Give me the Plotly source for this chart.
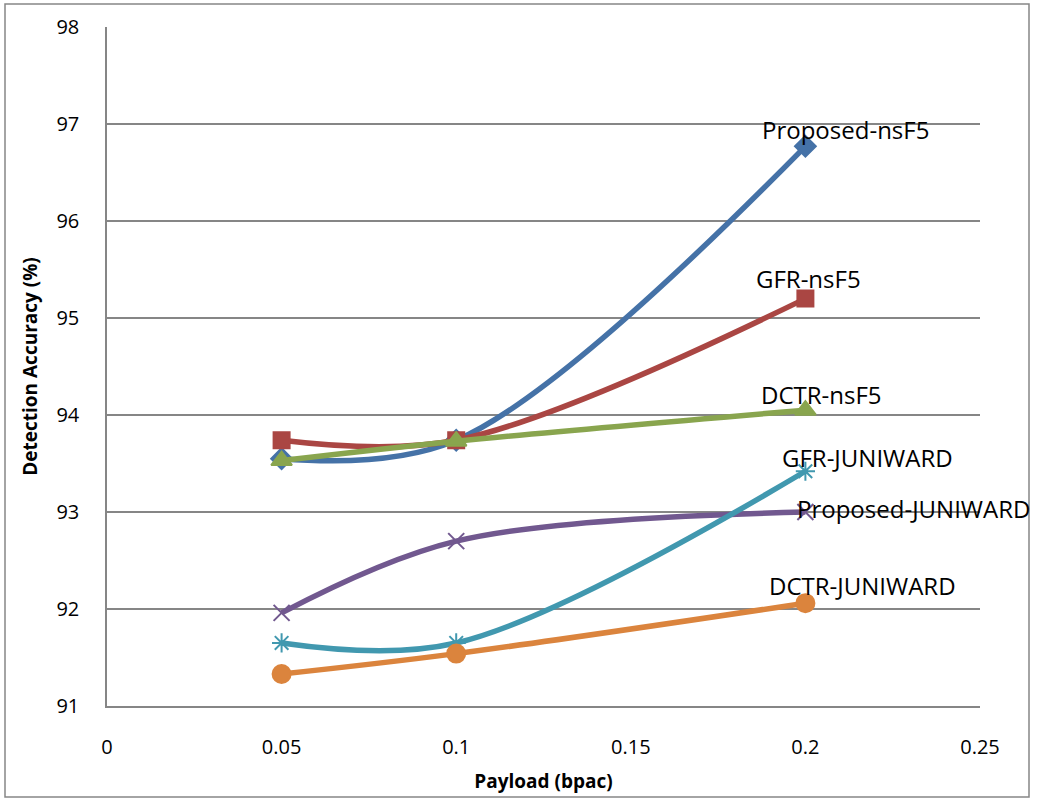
import plotly.graph_objects as go

payload = [0.05, 0.1, 0.2]

series_names = ["Proposed-nsF5", "GFR-nsF5", "DCTR-nsF5",
                "Proposed-JUNIWARD", "GFR-JUNIWARD", "DCTR-JUNIWARD"]
proposed_nsf5 = [93.55, 93.74, 96.77]
gfr_nsf5 = [93.74, 93.74, 95.20]
dctr_nsf5 = [93.53, 93.73, 94.05]
proposed_juniward = [91.96, 92.70, 93.00]
gfr_juniward = [91.65, 91.65, 93.42]
dctr_juniward = [91.33, 91.54, 92.06]

x_ticks = [0, 0.05, 0.1, 0.15, 0.2, 0.25]
x_tick_text = ["0", "0.05", "0.1", "0.15", "0.2", "0.25"]
y_ticks = [91, 92, 93, 94, 95, 96, 97, 98]

values = [proposed_nsf5, gfr_nsf5, dctr_nsf5,
          proposed_juniward, gfr_juniward, dctr_juniward]
colors = ["#4572A7", "#AA4643", "#89A54E", "#71588F", "#4198AF", "#DB843D"]
markers = [
    dict(symbol="diamond", size=16),
    dict(symbol="square", size=16),
    dict(symbol="triangle-up", size=18),
    dict(symbol="x-thin-open", size=16),
    dict(symbol="asterisk-open", size=16),
    dict(symbol="circle", size=18),
]
# label offsets (pixels) relative to the last point of each series
label_shift = [(40, 17), (3, 20), (16, 16), (108, 4), (62, 14), (57, 18)]

FONT = "Open Sans"

# plot-area geometry in pixels
W, H = 1037, 800
ML, MR, MT, MB = 107, 57, 27, 94
PW, PH = W - ML - MR, H - MT - MB

fig = go.Figure()
for name, ys, col, mk in zip(series_names, values, colors, markers):
    m = dict(mk)
    m["color"] = col
    m["line"] = dict(color=col, width=2)
    fig.add_trace(go.Scatter(
        x=payload, y=ys, name=name, mode="lines+markers",
        line=dict(color=col, width=5.5, shape="spline", smoothing=1.0),
        marker=m,
    ))

# series names written next to their last point
for name, ys, (dx, dy) in zip(series_names, values, label_shift):
    fig.add_annotation(
        x=payload[-1], y=ys[-1], text=name, showarrow=False,
        xshift=dx, yshift=dy,
        font=dict(family=FONT, size=24, color="black"),
    )

fig.update_layout(
    width=W, height=H,
    margin=dict(l=ML, r=MR, t=MT, b=MB),
    paper_bgcolor="white", plot_bgcolor="white",
    showlegend=False,
    font=dict(family=FONT, size=20, color="black"),
    xaxis=dict(
        range=[0, 0.25], tickvals=x_ticks, ticktext=x_tick_text,
        showgrid=False, zeroline=False, showline=True,
        linecolor="#868686", linewidth=1.5, ticks="",
        ticklabelstandoff=22,
        title=dict(text="<b>Payload (bpac)</b>", standoff=16,
                   font=dict(family=FONT, size=19)),
    ),
    yaxis=dict(
        range=[91, 98], tickvals=y_ticks,
        showgrid=True, gridcolor="#868686", gridwidth=1.5,
        zeroline=False, showline=True, linecolor="#868686", linewidth=1.5,
        ticks="", ticklabelstandoff=22,
        title=dict(text="<b>Detection Accuracy (%)</b>", standoff=14,
                   font=dict(family=FONT, size=19)),
    ),
)

# outer chart frame
fig.add_shape(type="rect", xref="paper", yref="paper",
              x0=(5 - ML) / PW, x1=(1029 - ML) / PW,
              y0=(H - MB - 797) / PH, y1=(H - MB - 4) / PH,
              line=dict(color="#868686", width=1.5), layer="below")

fig.write_html("out.html")
